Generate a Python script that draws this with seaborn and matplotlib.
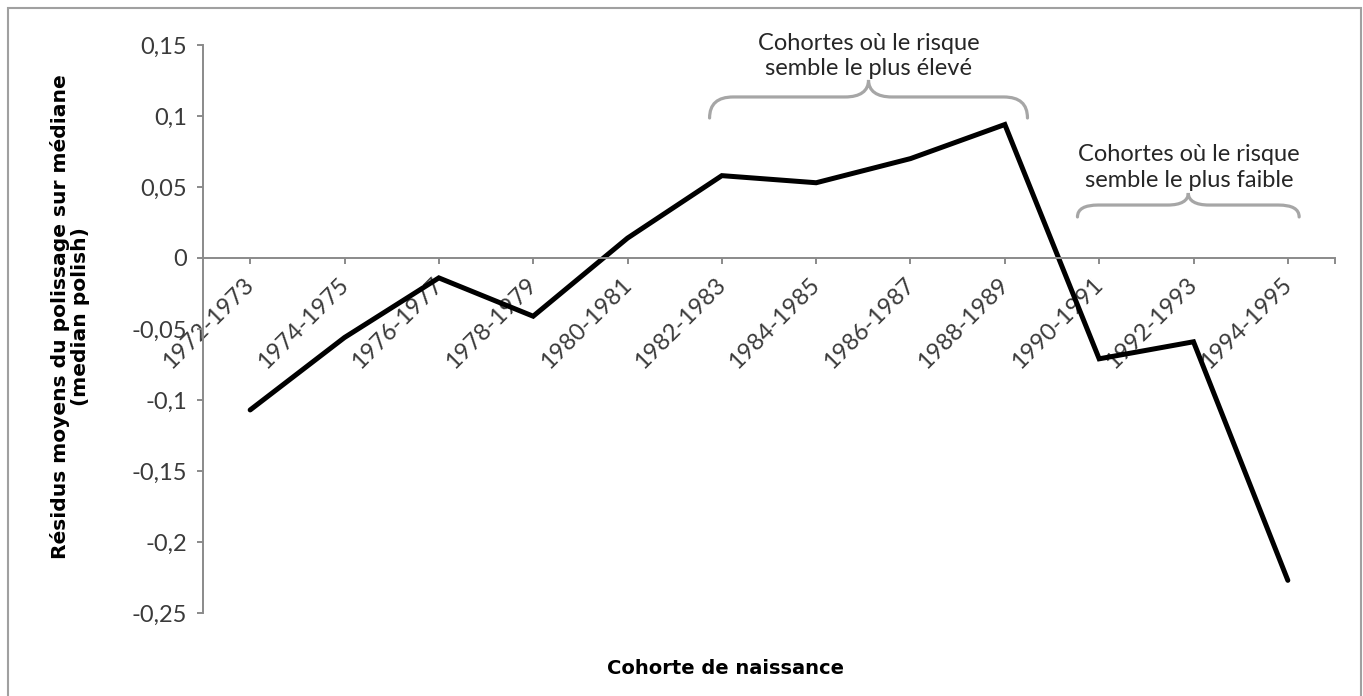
import matplotlib
matplotlib.use("Agg")
import matplotlib.pyplot as plt
import matplotlib.transforms as mtransforms
import seaborn as sns
import pandas as pd
from matplotlib.path import Path
from matplotlib.patches import PathPatch, Rectangle

# ---- data ----
cohorts = ["1972-1973", "1974-1975", "1976-1977", "1978-1979", "1980-1981",
           "1982-1983", "1984-1985", "1986-1987", "1988-1989", "1990-1991",
           "1992-1993", "1994-1995"]
residus = [-0.107, -0.056, -0.014, -0.041, 0.014, 0.058, 0.053, 0.070,
           0.094, -0.071, -0.059, -0.227]
ytick_values = [-0.25, -0.2, -0.15, -0.1, -0.05, 0, 0.05, 0.1, 0.15]
ytick_labels = ["-0,25", "-0,2", "-0,15", "-0,1", "-0,05", "0", "0,05", "0,1", "0,15"]
xlabel = "Cohorte de naissance"
ylabel = "Résidus moyens du polissage sur médiane\n(median polish)"
note_high = "Cohortes où le risque\nsemble le plus élevé"
note_low = "Cohortes où le risque\nsemble le plus faible"

sns.set_theme(style="white")
plt.rcParams['font.family'] = ['Lato', 'DejaVu Sans']

W, H = 1363, 696
fig = plt.figure(figsize=(W / 100, H / 100), dpi=100)
ax = fig.add_axes([203 / W, 1 - 613 / H, (1335 - 203) / W, (613 - 45) / H])

df = pd.DataFrame({"cohorte": cohorts, "residu": residus})
sns.lineplot(data=df, x="cohorte", y="residu", color="black", linewidth=3.6,
             sort=False, ax=ax, solid_joinstyle="miter")

ax.set_xlim(-0.5, 11.5)
ax.set_ylim(-0.25, 0.15)
ax.set_xlabel("")
ax.set_ylabel("")

axis_col = "#8a8a8a"
for s in ["top", "right"]:
    ax.spines[s].set_visible(False)
ax.spines["left"].set_color(axis_col)
ax.spines["left"].set_linewidth(1.4)
ax.spines["bottom"].set_color(axis_col)
ax.spines["bottom"].set_linewidth(1.4)
ax.spines["bottom"].set_position(("data", 0))

ax.set_yticks(ytick_values)
ax.set_yticklabels(ytick_labels)
ax.set_xticks(range(len(cohorts)))
ax.set_xticklabels(cohorts, rotation=45, ha="right", va="top", rotation_mode="anchor")
ax.set_xticks([11.5], minor=True)

ax.tick_params(axis="both", which="both", direction="out", length=4.5, width=1.4,
               color=axis_col, bottom=True, left=True)
ax.tick_params(axis="y", labelsize=17, labelcolor="#3a3a3a", pad=7)
ax.tick_params(axis="x", labelsize=17, labelcolor="#3a3a3a", pad=7)
shift = mtransforms.ScaledTranslation(-7 / 100, 0, fig.dpi_scale_trans)
for lab in ax.get_xticklabels():
    lab.set_fontweight("normal")
    lab.set_transform(lab.get_transform() + shift)
for lab in ax.get_yticklabels():
    lab.set_fontweight("normal")


def brace(x0, x1, yb, yt, yp, rx, rc):
    xm = (x0 + x1) / 2
    k = 0.35
    verts = [
        (x0, yb),
        (x0, yt), (x0 + rx, yt),
        (xm - rc, yt),
        (xm - rc * k, yt), (xm, yt + (yp - yt) * k), (xm, yp),
        (xm, yt + (yp - yt) * k), (xm + rc * k, yt), (xm + rc, yt),
        (x1 - rx, yt),
        (x1, yt), (x1, yb),
    ]
    codes = [Path.MOVETO,
             Path.CURVE3, Path.CURVE3,
             Path.LINETO,
             Path.CURVE4, Path.CURVE4, Path.CURVE4,
             Path.CURVE4, Path.CURVE4, Path.CURVE4,
             Path.LINETO,
             Path.CURVE3, Path.CURVE3]
    p = PathPatch(Path(verts, codes), fill=False, edgecolor="#a6a6a6", lw=2.3,
                  capstyle="round", clip_on=False)
    ax.add_patch(p)


brace(4.87, 8.24, 0.0986, 0.1134, 0.1254, 0.25, 0.25)
brace(8.77, 11.12, 0.0289, 0.0373, 0.0458, 0.22, 0.22)

ax.text(6.56, 0.1425, note_high, ha="center", va="center", fontsize=17,
        linespacing=1.25, color="#262626", clip_on=False)
ax.text(9.95, 0.0637, note_low, ha="center", va="center", fontsize=17,
        linespacing=1.25, color="#262626", clip_on=False)

fig.text(726 / W, 1 - 669 / H, xlabel, ha="center", va="center", fontsize=14,
         fontweight="bold", family="DejaVu Sans", color="black")
fig.text(70 / W, 1 - 317 / H, ylabel, rotation=90, ha="center", va="center",
         multialignment="center", fontsize=14.6, fontweight="bold",
         family="DejaVu Sans", linespacing=1.05, color="black")

fig.patches.append(Rectangle((8 / W, -0.05), (1361 - 8) / W, 1 - 8 / H + 0.05,
                             transform=fig.transFigure, fill=False,
                             edgecolor="#a0a0a0", lw=1.5))

fig.savefig("out.png", dpi=100)
